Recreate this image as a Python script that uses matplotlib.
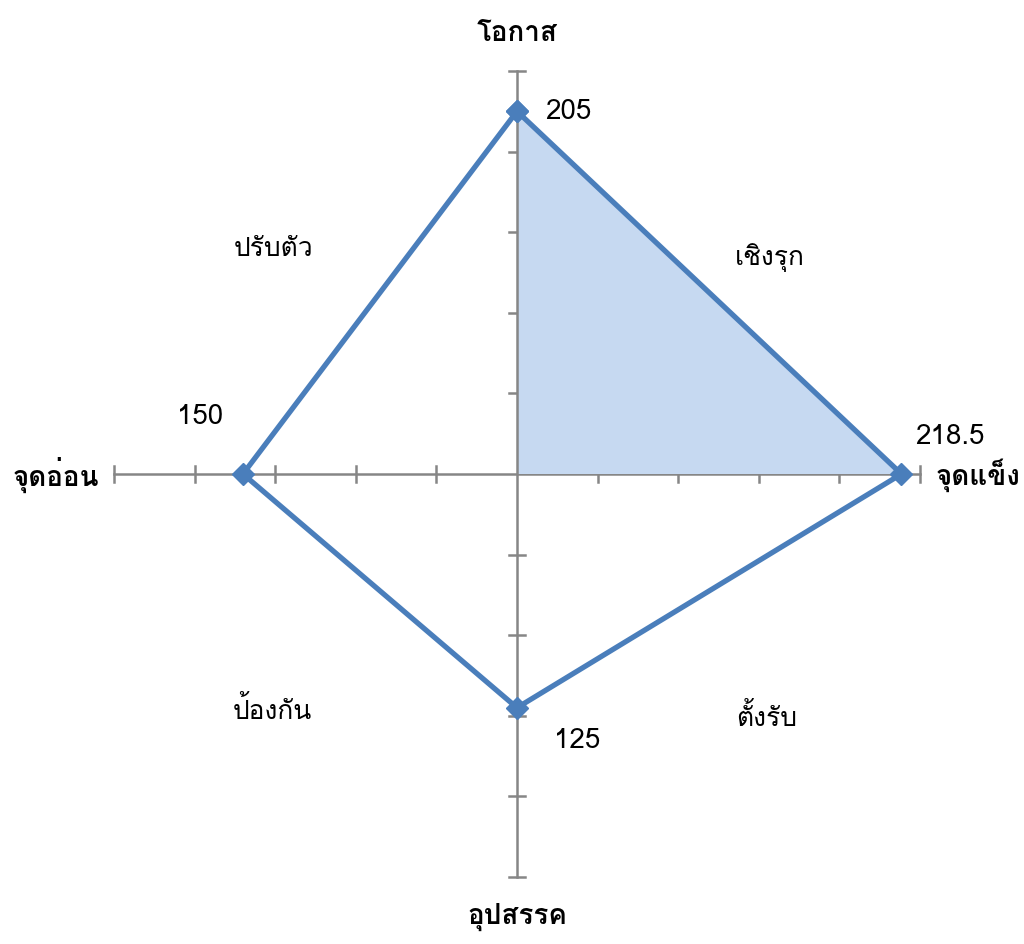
import numpy as np
import matplotlib
matplotlib.use("Agg")
import matplotlib.pyplot as plt
from matplotlib import font_manager

# ---- data ----
axis_names = ["โอกาส", "จุดแข็ง", "อุปสรรค", "จุดอ่อน"]   # top, right, bottom, left
axis_values = [205, 218.5, 125, 150]
value_labels = ["205", "218.5", "125", "150"]
quadrant_names = ["เชิงรุก", "ตั้งรับ", "ป้องกัน", "ปรับตัว"]  # Q1, Q4, Q3, Q2
tick_values = [50, 100, 150, 200, 250]

# ---- font detection for Thai ----
thai_font = None
try:
    from fontTools.ttLib import TTFont
    seen = set()
    for f in font_manager.fontManager.ttflist:
        if f.name in seen:
            continue
        try:
            tt = TTFont(f.fname, fontNumber=0, lazy=True)
            cmap = tt.getBestCmap()
            if cmap and 0x0E01 in cmap and 0x0E38 in cmap:
                thai_font = f.name
                break
        except Exception:
            pass
        seen.add(f.name)
except Exception:
    pass
families = ([thai_font] if thai_font else []) + ["DejaVu Sans"]
plt.rcParams["font.family"] = families

OFFSET = 20  # value-axis origin offset (axis starts below zero)
def pos(v):
    return v + OFFSET

W, H = 1024, 945
fig = plt.figure(figsize=(W / 100, H / 100), dpi=100)
ax = fig.add_axes([0, 0, 1, 1])
ax.set_axis_off()
cx, cy, ppu = 517, 475, 1.612
ax.set_xlim(-cx / ppu, (W - cx) / ppu)
ax.set_ylim(-(H - cy) / ppu, cy / ppu)

axis_col = "#868686"
amax = tick_values[-1]
alw = 1.8
ax.plot([-amax, amax], [0, 0], color=axis_col, lw=alw, zorder=1)
ax.plot([0, 0], [-amax, amax], color=axis_col, lw=alw, zorder=3)
tl = 8 / ppu
for t in tick_values:
    for s in (1, -1):
        ax.plot([s * t, s * t], [-tl, tl], color=axis_col, lw=alw, zorder=1)
        ax.plot([-tl, tl], [s * t, s * t], color=axis_col, lw=alw, zorder=1)

top, right, bottom, left = [pos(v) for v in axis_values]
# aggressive-quadrant fill
ax.fill([0, 0, right], [0, top, 0], color="#C6D9F1", zorder=2, lw=0)

xs = [0, right, 0, -left, 0]
ys = [top, 0, -bottom, 0, top]
ax.plot(xs, ys, color="#4A7EBB", lw=3.8, marker="D", markersize=11,
        zorder=4, solid_joinstyle="miter")

num_fs = 20
ax.annotate(value_labels[0], (0, top), xytext=(37, 0), textcoords="offset points",
            ha="center", va="center", fontsize=num_fs)
ax.annotate(value_labels[1], (right, 0), xytext=(35, 27), textcoords="offset points",
            ha="center", va="center", fontsize=num_fs)
ax.annotate(value_labels[2], (0, -bottom), xytext=(43, -23), textcoords="offset points",
            ha="center", va="center", fontsize=num_fs)
ax.annotate(value_labels[3], (-left, 0), xytext=(-31, 42), textcoords="offset points",
            ha="center", va="center", fontsize=num_fs)

tfs = 20
ax.annotate(axis_names[0], (0, amax), xytext=(0, 28), textcoords="offset points",
            ha="center", va="center", fontsize=tfs, fontweight="bold")
ax.annotate(axis_names[1], (amax, 0), xytext=(11, 0), textcoords="offset points",
            ha="left", va="center", fontsize=tfs, fontweight="bold")
ax.annotate(axis_names[2], (0, -amax), xytext=(0, -28), textcoords="offset points",
            ha="center", va="center", fontsize=tfs, fontweight="bold")
ax.annotate(axis_names[3], (-amax, 0), xytext=(-11, 0), textcoords="offset points",
            ha="right", va="center", fontsize=tfs, fontweight="bold")

qfs = 19
ax.text(157, 135, quadrant_names[0], ha="center", va="center", fontsize=qfs)
ax.text(155, -150, quadrant_names[1], ha="center", va="center", fontsize=qfs)
ax.text(-152, -146, quadrant_names[2], ha="center", va="center", fontsize=qfs)
ax.text(-151, 140, quadrant_names[3], ha="center", va="center", fontsize=qfs)

fig.savefig("out.png", dpi=100)
